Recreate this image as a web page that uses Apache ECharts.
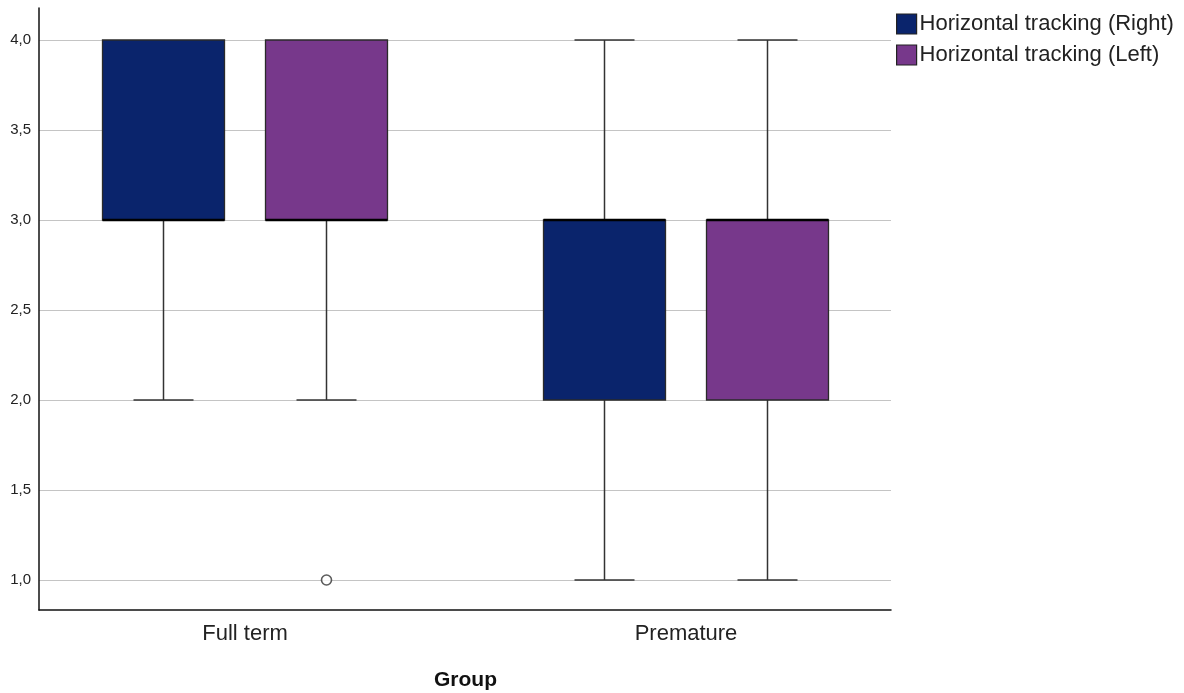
<!DOCTYPE html>
<html>
<head>
<meta charset="utf-8">
<script src="https://cdn.jsdelivr.net/npm/echarts@6/dist/echarts.min.js"></script>
<style>
  html, body { margin: 0; padding: 0; background: #fff; }
  #chart { width: 1184px; height: 693px; }
</style>
</head>
<body>
<div id="chart"></div>
<script>
var groups = ['Full term', 'Premature'];
var seriesNames = ['Horizontal tracking (Right)', 'Horizontal tracking (Left)'];
// [min, Q1, median, Q3, max] for each group
var rightBox = [[2, 3, 3, 4, 4], [1, 2, 3, 3, 4]];
var leftBox = [[2, 3, 3, 4, 4], [1, 2, 3, 3, 4]];
// [group index, value]
var leftOutliers = [[0, 1]];
var yMin = 1, yMax = 4, yStep = 0.5;

var colors = ['#0a246c', '#77388b'];
var boxOffset = 81.5;   // px from group centre
var boxHalf = 61;
var capHalf = 30;
var font = '"Liberation Sans", Arial, sans-serif';

function toData(boxes) {
  return boxes.map(function (b, i) { return [i].concat(b); });
}

function boxRenderer(offset, color) {
  return function (params, api) {
    var cat = api.value(0);
    var cx = api.coord([cat, api.value(1)])[0] + offset;
    var py = function (i) { return api.coord([cat, api.value(i)])[1]; };
    var yLo = py(1), yQ1 = py(2), yMed = py(3), yQ3 = py(4), yHi = py(5);
    var ln = { stroke: '#333', lineWidth: 1.5 };
    var kids = [];
    if (yHi < yQ3 - 0.5) {
      kids.push({ type: 'line', shape: { x1: cx, y1: yHi, x2: cx, y2: yQ3 }, style: ln });
      kids.push({ type: 'line', shape: { x1: cx - capHalf, y1: yHi, x2: cx + capHalf, y2: yHi }, style: ln });
    }
    if (yLo > yQ1 + 0.5) {
      kids.push({ type: 'line', shape: { x1: cx, y1: yQ1, x2: cx, y2: yLo }, style: ln });
      kids.push({ type: 'line', shape: { x1: cx - capHalf, y1: yLo, x2: cx + capHalf, y2: yLo }, style: ln });
    }
    kids.push({
      type: 'rect',
      shape: { x: cx - boxHalf, y: yQ3, width: boxHalf * 2, height: yQ1 - yQ3 },
      style: { fill: color, stroke: '#2a2a2a', lineWidth: 1.3 }
    });
    kids.push({
      type: 'line',
      shape: { x1: cx - boxHalf, y1: yMed, x2: cx + boxHalf, y2: yMed },
      style: { stroke: '#000', lineWidth: 2.5 }
    });
    return { type: 'group', children: kids };
  };
}

var chart = echarts.init(document.getElementById('chart'));
var option = {
  animation: false,
  backgroundColor: '#fff',
  legend: {
    orient: 'vertical',
    left: 896,
    top: 13,
    padding: 0,
    itemWidth: 20,
    itemHeight: 20,
    itemGap: 9,
    icon: 'rect',
    data: seriesNames,
    itemStyle: { borderColor: '#222', borderWidth: 1.2 },
    textStyle: { fontFamily: font, fontSize: 22, lineHeight: 20, color: '#222', padding: [0, 0, 0, -2] }
  },
  grid: [
    { left: 39, right: 293, top: 8, bottom: 83, outerBoundsMode: 'none' },
    { left: 39, right: 293, top: 40, bottom: 113, outerBoundsMode: 'none' },
    { left: 245, right: 498, top: 40, bottom: 113, outerBoundsMode: 'none' }
  ],
  xAxis: [
    {
      gridIndex: 0, type: 'category', data: groups,
      axisLine: { lineStyle: { color: '#111', width: 1.5 } },
      axisTick: { show: false }, axisLabel: { show: false }
    },
    { gridIndex: 1, type: 'value', show: false },
    {
      gridIndex: 2, type: 'category', data: groups, boundaryGap: false,
      axisLine: { show: false }, axisTick: { show: false },
      axisLabel: { margin: 43, fontFamily: font, fontSize: 22, color: '#222' },
      name: 'Group', nameLocation: 'middle', nameGap: 90,
      nameTextStyle: { fontFamily: font, fontSize: 21, fontWeight: 'bold', color: '#111' }
    }
  ],
  yAxis: [
    {
      gridIndex: 0, type: 'value', min: 0.8333, max: 4.1778,
      axisLine: { show: true, lineStyle: { color: '#111', width: 1.5 } },
      axisTick: { show: false }, axisLabel: { show: false }, splitLine: { show: false }
    },
    {
      gridIndex: 1, type: 'value', min: yMin, max: yMax, interval: yStep,
      axisLine: { show: false }, axisTick: { show: false },
      axisLabel: {
        margin: 8, fontFamily: font, fontSize: 15, color: '#222',
        formatter: function (v) { return v.toFixed(1).replace('.', ','); }
      },
      splitLine: { lineStyle: { color: '#c4c4c4', width: 1.2 } }
    },
    { gridIndex: 2, type: 'value', min: yMin, max: yMax, show: false }
  ],
  series: [
    {
      name: seriesNames[0], type: 'custom', xAxisIndex: 2, yAxisIndex: 2,
      renderItem: boxRenderer(-boxOffset, colors[0]),
      itemStyle: { color: colors[0], borderColor: '#222' },
      encode: { x: 0, y: [1, 2, 3, 4, 5] },
      data: toData(rightBox)
    },
    {
      name: seriesNames[1], type: 'custom', xAxisIndex: 2, yAxisIndex: 2,
      renderItem: boxRenderer(boxOffset, colors[1]),
      itemStyle: { color: colors[1], borderColor: '#222' },
      encode: { x: 0, y: [1, 2, 3, 4, 5] },
      data: toData(leftBox)
    },
    {
      name: 'Outliers (Left)', type: 'scatter', xAxisIndex: 2, yAxisIndex: 2,
      symbol: 'circle', symbolSize: 10, symbolOffset: [boxOffset, 0],
      clip: false,
      itemStyle: { color: '#fff', borderColor: '#333', borderWidth: 1.6 },
      data: leftOutliers
    }
  ]
};
chart.setOption(option);
</script>
</body>
</html>
